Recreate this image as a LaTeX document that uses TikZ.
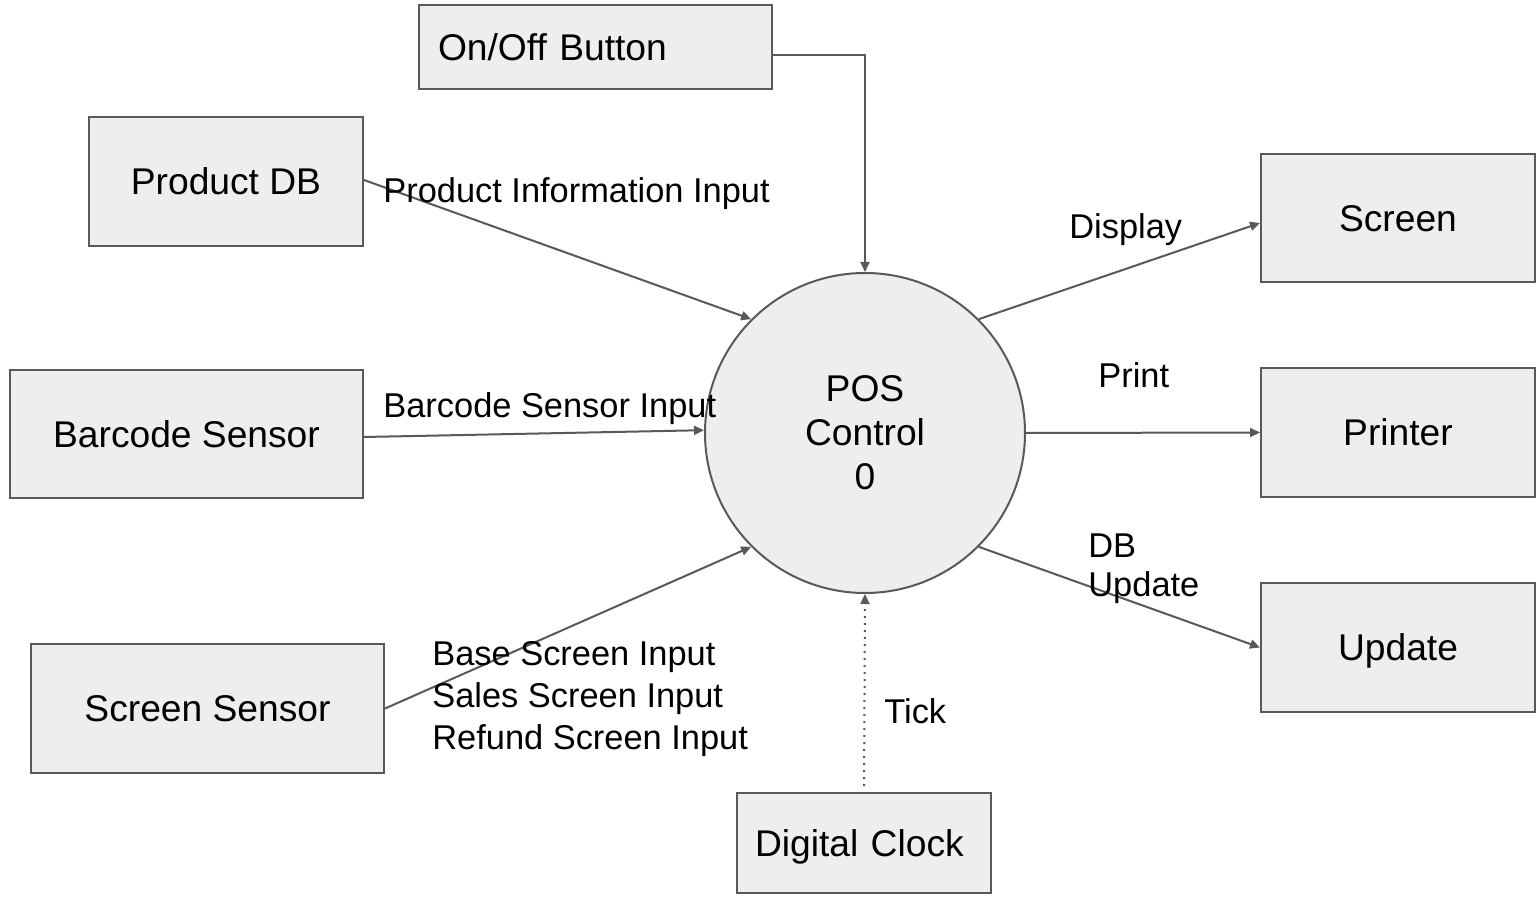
\documentclass[tikz,border=0pt]{standalone}
\usepackage{fontspec}
\setmainfont{Liberation Sans}
\usetikzlibrary{arrows.meta}
\definecolor{boxfill}{HTML}{EEEEEE}
\definecolor{edge}{HTML}{595959}
\begin{document}
\begin{tikzpicture}[x=0.5pt,y=-0.5pt,
  every node/.style={font=\fontsize{17.2}{21}\selectfont},
  ext/.style={draw=edge,fill=boxfill,line width=1pt,rectangle,inner sep=0pt,text height=13.3pt,text depth=0pt,font=\fontsize{18.6}{22}\selectfont},
  proc/.style={draw=edge,fill=boxfill,line width=1pt,circle,minimum size=160pt,inner sep=0pt,align=center,font=\fontsize{18.6}{22}\selectfont},
  flow/.style={draw=edge,line width=1pt,-{Triangle[length=5pt,width=4.5pt]}},
  tick/.style={flow,dash pattern=on 1pt off 2.5pt},
  lbl/.style={anchor=base west,inner sep=0pt,align=left}]
\useasboundingbox (0,0) rectangle (1537,897);
\fill[white] (0,0) rectangle (1537,897);
% external entities
\node[ext,minimum width=176.5pt,minimum height=42pt,text width=157.5pt,align=left,inner xsep=9.5pt] (onoff) at (595.5,47) {On/Off Button};
\node[ext,minimum width=137pt,minimum height=64.5pt] (pdb) at (226,181.5) {Product DB};
\node[ext,minimum width=176.5pt,minimum height=64pt] (bar) at (186.5,434) {Barcode Sensor};
\node[ext,minimum width=176.5pt,minimum height=64.5pt] (ss) at (207.5,708.5) {Screen Sensor};
\node[ext,minimum width=127pt,minimum height=50pt,text width=117pt,align=left,inner xsep=5pt] (clock) at (864,843) {\hspace*{4pt}Digital Clock};
\node[ext,minimum width=137pt,minimum height=64pt] (screen) at (1398,218) {Screen};
\node[ext,minimum width=137pt,minimum height=64.5pt] (printer) at (1398,432.5) {Printer};
\node[ext,minimum width=137pt,minimum height=64.5pt] (update) at (1398,647.5) {Update};
% process
\node[proc] (pos) at (865,433) {POS\\Control\\0};
% flows
\draw[flow] ([yshift=-4pt]onoff.east) -| (pos.north);
\draw[flow] ([yshift=0.75pt]pdb.east) -- (pos.135);
\draw[flow] ([yshift=-1.5pt]bar.east) -- (pos.179);
\draw[flow] (ss.east) -- (pos.225);
\draw[tick,shorten <=3pt] (clock.north) -- (pos.south);
\draw[flow] (pos.45) -- ([yshift=-2.5pt]screen.west);
\draw[flow] (pos.east) -- (printer.west);
\draw[flow] (pos.-45) -- (update.west);
% labels
\node[lbl] (l1) at (383,203) {Product Information Input};
\node[lbl] (l2) at (383,418) {Barcode Sensor Input};
\node[lbl] (l3) at (432,749) {Base Screen Input\\Sales Screen Input\\Refund Screen Input};
\node[lbl] (l4) at (884,723) {Tick};
\node[lbl] (l5) at (1069,239) {Display};
\node[lbl] (l6) at (1098,388) {Print};
\node[lbl,font=\fontsize{17.2}{19.5}\selectfont] (l7) at (1088,597) {DB\\Update};
\end{tikzpicture}
\end{document}
